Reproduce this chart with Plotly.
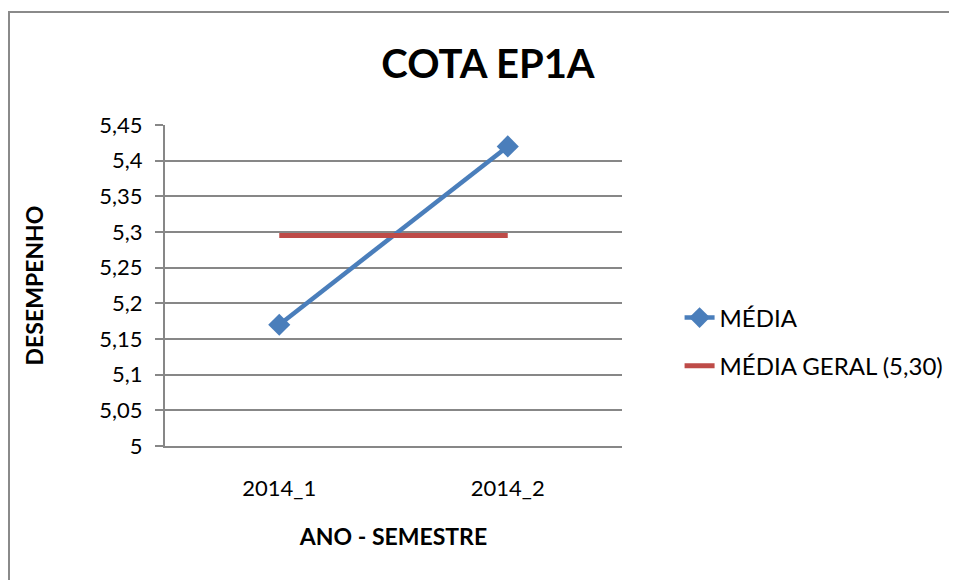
import plotly.graph_objects as go

# data
semesters = ['2014_1', '2014_2']
media = [5.17, 5.42]
media_geral = [5.295, 5.295]

y_ticks = [5.0, 5.05, 5.1, 5.15, 5.2, 5.25, 5.3, 5.35, 5.4, 5.45]
y_tick_text = ['5', '5,05', '5,1', '5,15', '5,2', '5,25', '5,3', '5,35', '5,4', '5,45']

FONT = 'Lato, Open Sans, sans-serif'
GRID = '#878787'

fig = go.Figure()

fig.add_trace(go.Scatter(
    x=semesters, y=media,
    mode='lines+markers',
    name='MÉDIA',
    line=dict(color='#4A7EBB', width=4.5),
    marker=dict(symbol='diamond', size=17, color='#4A7EBB'),
    legendgroup='a',
))
fig.add_trace(go.Scatter(
    x=semesters, y=media_geral,
    mode='lines',
    name='MÉDIA GERAL (5,30)',
    line=dict(color='#BE4B48', width=5),
    legendgroup='b',
))

# the page adds an 8px body margin, so the figure is shifted up/left by 8
fig.update_layout(
    width=957, height=580,
    margin=dict(l=157, r=343, t=117, b=142),
    paper_bgcolor='white',
    plot_bgcolor='white',
    font=dict(family=FONT, color='black', size=22),
    title=dict(
        text='<b>COTA EP1A</b>',
        font=dict(size=40, family=FONT, color='black'),
        x=480 / 957, xanchor='center',
        y=1 - 56 / 580, yanchor='middle',
    ),
    legend=dict(
        x=1.126, y=0.324, xanchor='left', yanchor='middle',
        font=dict(size=24, family=FONT),
        tracegroupgap=14,
        bgcolor='rgba(0,0,0,0)',
    ),
    showlegend=True,
)

fig.update_xaxes(
    type='category',
    range=[-0.5, 1.5],
    showgrid=False,
    showline=True, linecolor=GRID, linewidth=2,
    ticks='', ticklabelstandoff=22,
    tickfont=dict(size=22),
    title=dict(text='<b>ANO - SEMESTRE</b>', font=dict(size=23), standoff=28),
)
fig.update_yaxes(
    range=[5.0, 5.45],
    tickvals=y_ticks, ticktext=y_tick_text,
    showgrid=True, gridcolor=GRID, gridwidth=1.5,
    showline=True, linecolor=GRID, linewidth=2,
    ticks='outside', ticklen=8, tickcolor=GRID, tickwidth=1.5,
    tickfont=dict(size=22), ticklabelstandoff=8,
    zeroline=False,
    title=dict(text='<b>DESEMPENHO</b>', font=dict(size=23), standoff=49),
)

# chart outer border (clipped by the page on the right and bottom)
fig.add_shape(
    type='rect', xref='paper', yref='paper',
    x0=(1 - 157) / 457, x1=2.0,
    y0=-1.0, y1=(438 - 4) / 321,
    line=dict(color='#8a8a8a', width=2),
    layer='below',
)

fig.write_html('out.html')
